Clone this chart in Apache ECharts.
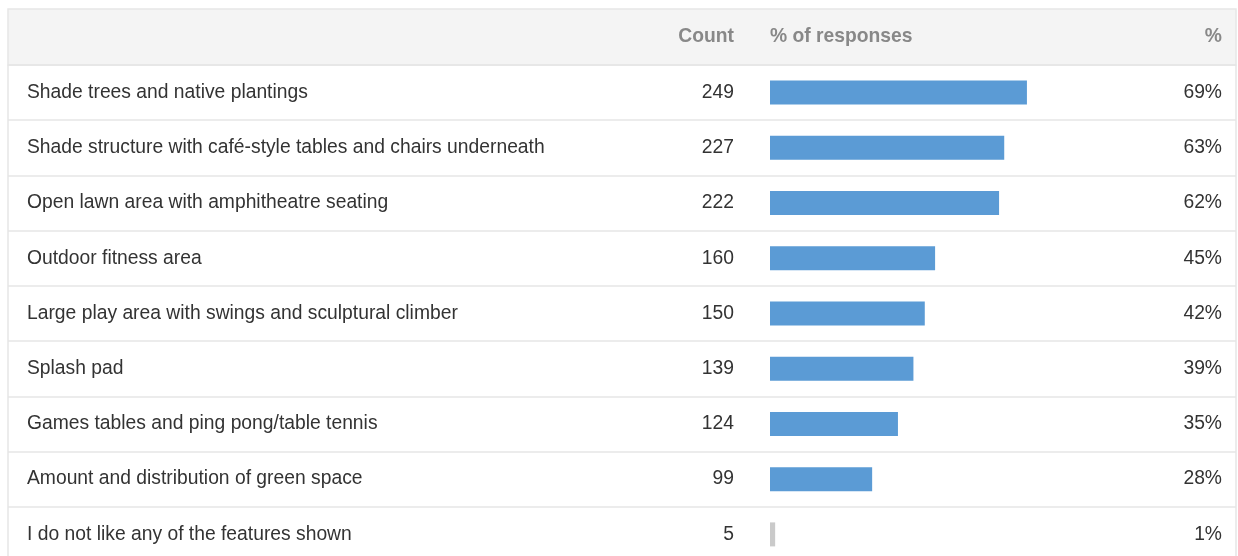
<!DOCTYPE html>
<html>
<head>
<meta charset="utf-8">
<title>Features</title>
<script src="https://cdn.jsdelivr.net/npm/echarts@6/dist/echarts.min.js"></script>
<style>
  html, body { margin: 0; padding: 0; background: #fff; }
  #chart { width: 1238px; height: 556px; }
</style>
</head>
<body>
<div id="chart"></div>
<script>
var features = [
  'Shade trees and native plantings',
  'Shade structure with café-style tables and chairs underneath',
  'Open lawn area with amphitheatre seating',
  'Outdoor fitness area',
  'Large play area with swings and sculptural climber',
  'Splash pad',
  'Games tables and ping pong/table tennis',
  'Amount and distribution of green space',
  'I do not like any of the features shown'
]
var counts = [249, 227, 222, 160, 150, 139, 124, 99, 5]
var percents = [69, 63, 62, 45, 42, 39, 35, 28, 1]
var respondents = 361

var FONT = '"Liberation Sans", Arial, sans-serif'
var SIZE = 19.3
var LINE = '#e6e6e6'

var chart = echarts.init(document.getElementById('chart'))

// table rows: full width grid (labels, counts, percents, row borders)
// bar grid: only the "% of responses" column
chart.setOption({
  animation: false,
  grid: [
    { left: 8, width: 1228, top: 65, height: 497, outerBoundsMode: 'none' },
    { left: 770, width: 372.5, top: 65, height: 497, outerBoundsMode: 'none' }
  ],
  graphic: [
    {
      type: 'rect',
      shape: { x: 8, y: 9, width: 1228, height: 56 },
      style: { fill: '#f4f4f4', stroke: LINE, lineWidth: 1.5 }
    },
    {
      type: 'text', x: 734, y: 37,
      style: { text: 'Count', align: 'right', verticalAlign: 'middle', fill: '#888', font: 'bold ' + SIZE + 'px ' + FONT }
    },
    {
      type: 'text', x: 770, y: 37,
      style: { text: '% of responses', align: 'left', verticalAlign: 'middle', fill: '#888', font: 'bold ' + SIZE + 'px ' + FONT }
    },
    {
      type: 'text', x: 1222, y: 37,
      style: { text: '%', align: 'right', verticalAlign: 'middle', fill: '#888', font: 'bold ' + SIZE + 'px ' + FONT }
    }
  ],
  xAxis: [
    { gridIndex: 0, type: 'value', min: 0, max: 1, show: false },
    { gridIndex: 1, type: 'value', min: 0, max: respondents, show: false }
  ],
  yAxis: [
    {
      gridIndex: 0,
      type: 'category',
      inverse: true,
      position: 'left',
      data: features,
      axisLine: { show: true, lineStyle: { color: LINE, width: 1.5 } },
      axisTick: { show: false },
      splitLine: { show: true, interval: 0, lineStyle: { color: LINE, width: 1.5 } },
      axisLabel: {
        inside: true,
        margin: 19,
        align: 'left',
        interval: 0,
        formatter: function(name, i) {
          return '{n|' + name + '}{c|' + counts[i] + '}'
        },
        rich: {
          n: { width: 647, fontSize: SIZE, fontFamily: FONT, color: '#333' },
          c: { width: 60, align: 'right', fontSize: SIZE, fontFamily: FONT, color: '#333' }
        }
      }
    },
    {
      gridIndex: 0,
      type: 'category',
      inverse: true,
      position: 'right',
      data: percents.map(function(p) { return p + '%' }),
      axisLine: { show: true, lineStyle: { color: LINE, width: 1.5 } },
      axisTick: { show: false },
      splitLine: { show: false },
      axisLabel: {
        inside: true,
        margin: 14,
        align: 'right',
        interval: 0,
        fontSize: SIZE,
        fontFamily: FONT,
        color: '#333'
      }
    },
    {
      gridIndex: 1,
      type: 'category',
      inverse: true,
      data: features,
      show: false
    }
  ],
  series: [{
    type: 'bar',
    xAxisIndex: 1,
    yAxisIndex: 2,
    barWidth: 24,
    data: counts.map(function(c, i) {
      return {
        value: c,
        itemStyle: { color: i === counts.length - 1 ? '#cacaca' : '#5b9bd5' }
      }
    })
  }]
})
</script>
</body>
</html>
